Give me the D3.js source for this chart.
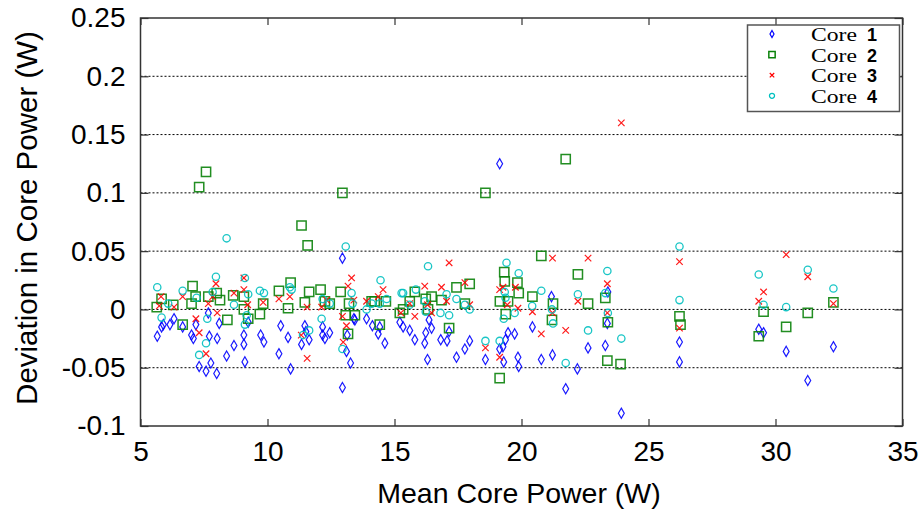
<!DOCTYPE html>
<html>
<head>
<meta charset="utf-8">
<script src="https://cdn.jsdelivr.net/npm/d3@7"></script>
<style>
  html, body { margin: 0; padding: 0; background: #fff; }
  svg { display: block; }
  .tick text { font-family: "Liberation Sans", Arial, sans-serif; font-size: 28px; fill: #000; }
</style>
</head>
<body>
<div id="chart"></div>
<script>
// ---- data ----
const xTicks = [5, 10, 15, 20, 25, 30, 35];
const yTicks = [-0.1, -0.05, 0, 0.05, 0.1, 0.15, 0.2, 0.25];
const yTickLabels = ['-0.1', '-0.05', '0', '0.05', '0.1', '0.15', '0.2', '0.25'];
const seriesNames = ['Core 1', 'Core 2', 'Core 3', 'Core 4'];

const core1 = [[5.66,-0.023],[5.83,-0.015],[5.90,-0.013],[6.16,-0.013],[6.32,-0.008],[6.66,-0.015],[7.01,-0.022],[7.08,-0.025],[7.18,-0.013],[7.31,-0.049],[7.58,-0.053],[7.67,-0.003],[7.71,-0.023],[7.77,-0.046],[8.00,-0.055],[8.02,-0.025],[8.10,-0.012],[8.39,-0.040],[8.68,-0.031],[9.07,-0.022],[9.07,-0.030],[9.11,-0.045],[9.24,-0.011],[9.73,-0.022],[9.86,-0.028],[10.45,-0.038],[10.52,-0.014],[10.81,-0.024],[10.91,-0.051],[11.34,-0.030],[11.47,-0.014],[11.51,-0.019],[11.64,-0.026],[12.17,-0.015],[12.17,-0.022],[12.26,-0.025],[12.45,-0.020],[12.95,0.044],[12.95,-0.067],[13.11,-0.036],[13.14,-0.022],[13.27,-0.046],[13.40,-0.008],[13.44,-0.009],[13.90,-0.008],[14.13,-0.014],[14.36,-0.021],[14.42,-0.015],[14.62,-0.029],[15.21,-0.011],[15.34,-0.015],[15.60,-0.018],[15.80,-0.026],[16.19,-0.029],[16.23,-0.020],[16.30,-0.043],[16.36,-0.009],[16.46,-0.016],[16.82,-0.026],[17.07,-0.027],[17.15,-0.019],[17.44,-0.041],[17.77,-0.034],[17.96,-0.027],[18.58,-0.043],[19.14,0.125],[19.14,-0.034],[19.27,-0.032],[19.30,-0.045],[19.37,-0.026],[19.47,-0.020],[19.73,-0.021],[19.86,-0.041],[19.89,-0.049],[20.43,-0.015],[20.78,-0.043],[21.18,0.011],[21.22,-0.039],[21.74,-0.068],[22.20,-0.051],[22.62,-0.033],[23.30,-0.031],[23.38,-0.012],[23.40,0.015],[23.93,-0.089],[26.22,-0.028],[26.22,-0.045],[29.34,-0.017],[29.53,-0.020],[30.42,-0.036],[31.27,-0.061],[32.28,-0.032]];

const core2 = [[5.64,0.002],[5.83,0.009],[6.29,0.004],[6.66,-0.013],[7.01,0.005],[7.05,0.020],[7.17,0.011],[7.31,0.105],[7.58,0.118],[7.67,0.011],[8.00,0.014],[8.13,0.008],[8.42,-0.009],[8.65,0.012],[9.07,0.011],[9.07,0.000],[9.24,-0.008],[9.70,-0.004],[9.83,0.005],[10.45,0.016],[10.81,0.001],[10.91,0.023],[11.34,0.072],[11.47,0.006],[11.58,0.055],[11.64,0.015],[12.09,0.017],[12.26,0.007],[12.45,0.005],[12.88,0.015],[12.95,0.100],[13.08,-0.005],[13.17,-0.021],[13.21,0.005],[13.44,-0.005],[14.10,0.007],[14.22,0.007],[14.42,-0.013],[14.66,0.007],[15.21,-0.003],[15.34,0.000],[15.60,0.007],[15.80,0.015],[16.23,0.009],[16.32,0.000],[16.46,0.011],[16.85,0.008],[17.15,-0.016],[17.44,0.019],[17.77,0.005],[17.96,0.022],[18.58,0.100],[19.14,-0.059],[19.15,0.007],[19.32,0.032],[19.34,0.024],[19.38,-0.004],[19.47,0.007],[19.84,0.023],[19.89,0.014],[20.43,0.011],[20.78,0.046],[21.20,-0.009],[21.24,0.005],[21.74,0.129],[22.22,0.030],[22.62,0.005],[23.30,0.010],[23.38,-0.044],[23.40,-0.011],[23.90,-0.047],[26.22,-0.006],[26.26,-0.013],[29.34,-0.023],[29.53,-0.002],[30.42,-0.015],[31.27,-0.003],[32.28,0.006]];

const core3 = [[5.74,0.003],[5.81,0.011],[6.32,0.002],[6.66,0.011],[7.18,-0.008],[7.31,-0.020],[7.58,-0.038],[7.67,0.005],[7.84,0.011],[7.97,0.022],[8.02,-0.003],[8.68,0.014],[9.07,0.027],[9.07,0.017],[9.22,0.004],[9.83,0.006],[10.45,0.009],[10.88,0.011],[11.33,-0.022],[11.56,-0.042],[11.56,0.002],[12.13,0.002],[12.33,0.008],[12.95,-0.006],[12.98,-0.028],[13.11,-0.014],[13.17,0.020],[13.31,0.027],[13.40,0.008],[13.90,0.007],[14.36,0.011],[14.55,0.017],[15.25,-0.003],[15.60,0.005],[15.80,-0.006],[16.19,0.020],[16.30,0.004],[16.46,-0.003],[16.85,0.019],[17.05,0.007],[17.15,0.040],[17.77,0.023],[17.96,0.004],[18.58,-0.033],[19.14,0.017],[19.14,-0.041],[19.27,0.019],[19.44,0.004],[19.76,0.019],[19.86,0.001],[20.43,-0.002],[20.78,-0.021],[21.22,0.044],[21.22,-0.003],[21.74,-0.018],[22.22,0.007],[22.62,0.044],[23.38,0.022],[23.38,-0.003],[23.93,0.160],[26.22,0.041],[26.22,-0.016],[29.34,0.007],[29.53,0.015],[30.42,0.047],[31.27,0.028],[32.28,0.005]];

const core4 = [[5.66,0.019],[5.83,-0.007],[6.09,0.005],[6.66,0.016],[7.21,0.010],[7.31,-0.039],[7.58,-0.029],[7.63,-0.008],[7.84,0.015],[7.97,0.028],[8.39,0.061],[8.68,0.004],[9.11,0.027],[9.11,-0.013],[9.18,-0.005],[9.24,0.013],[9.70,0.016],[9.86,0.014],[10.88,0.019],[10.95,0.017],[11.40,-0.022],[11.64,-0.018],[12.13,-0.008],[12.17,0.009],[12.45,0.005],[12.95,-0.034],[13.08,0.054],[13.31,0.014],[13.35,0.005],[13.90,0.000],[14.10,0.005],[14.42,0.005],[14.45,0.025],[14.69,0.009],[15.28,0.014],[15.34,0.014],[15.60,0.004],[15.84,0.017],[16.19,0.007],[16.23,-0.002],[16.32,0.037],[16.81,-0.003],[17.05,0.013],[17.15,-0.005],[17.44,0.009],[17.77,0.004],[17.96,0.000],[18.58,-0.027],[19.14,-0.027],[19.30,-0.008],[19.34,0.015],[19.37,0.010],[19.41,0.040],[19.73,-0.003],[19.89,0.031],[20.42,0.003],[20.78,0.016],[21.20,0.000],[21.24,-0.012],[21.74,-0.046],[22.22,0.013],[22.62,-0.018],[23.30,0.014],[23.38,0.033],[23.40,-0.003],[23.93,-0.025],[26.22,0.054],[26.22,0.008],[29.34,0.030],[29.53,0.004],[30.42,0.002],[31.27,0.034],[32.28,0.018]];

// ---- layout ----
const width = 920, height = 514;
const frame = { left: 140.5, right: 902.5, top: 18, bottom: 426 };

const svg = d3.select('#chart').append('svg')
  .attr('width', width).attr('height', height);

const x = d3.scaleLinear().domain([5, 35]).range([frame.left, frame.right]);
const y = d3.scaleLinear().domain([-0.1, 0.25]).range([frame.bottom, frame.top]);

// gnuplot style "x" point
const symbolCross = {
  draw(ctx, size) {
    const r = Math.sqrt(size) / 2;
    ctx.moveTo(-r, -r); ctx.lineTo(r, r);
    ctx.moveTo(r, -r); ctx.lineTo(-r, r);
  }
};

const styles = [
  { type: d3.symbolDiamond, size: 30, color: '#0000ff', width: 1.2, legendSize: 14 },
  { type: d3.symbolSquare,  size: 85, color: '#0a820a', width: 1.5, legendSize: 40 },
  { type: symbolCross,      size: 42, color: '#ff0000', width: 1.2, legendSize: 20 },
  { type: d3.symbolCircle,  size: 42, color: '#00c0c0', width: 1.3, legendSize: 20 }
];

// dotted horizontal grid
svg.append('g').attr('class', 'grid')
  .selectAll('line')
  .data(yTicks.filter(v => v > -0.1 && v < 0.25))
  .join('line')
  .attr('x1', frame.left).attr('x2', frame.right)
  .attr('y1', d => y(d)).attr('y2', d => y(d))
  .attr('stroke', '#000')
  .attr('stroke-width', 1)
  .attr('stroke-dasharray', '2,2');

// axes (ticks pointing inward, mirrored on top/right)
const gx = svg.append('g').attr('transform', `translate(0,${frame.bottom})`)
  .call(d3.axisBottom(x).tickValues(xTicks).tickSize(-7).tickPadding(15).tickFormat(d3.format('d')));
const gy = svg.append('g').attr('transform', `translate(${frame.left},0)`)
  .call(d3.axisLeft(y).tickValues(yTicks).tickSize(-8).tickPadding(15)
    .tickFormat((d, i) => yTickLabels[i]));
const gt = svg.append('g').attr('transform', `translate(0,${frame.top})`)
  .call(d3.axisTop(x).tickValues(xTicks).tickSize(-7).tickFormat(''));
const gr = svg.append('g').attr('transform', `translate(${frame.right},0)`)
  .call(d3.axisRight(y).tickValues(yTicks).tickSize(-8).tickFormat(''));

[gx, gy, gt, gr].forEach(g => {
  g.select('.domain').remove();
  g.selectAll('.tick line').attr('stroke', '#333').attr('stroke-width', 1.2);
  g.attr('font-family', null).attr('font-size', null);
});

// series
const allSeries = [core1, core2, core3, core4];
allSeries.forEach((data, i) => {
  const st = styles[i];
  svg.append('g').attr('class', 'series-' + (i + 1))
    .selectAll('path')
    .data(data)
    .join('path')
    .attr('transform', d => `translate(${x(d[0])},${y(d[1])})`)
    .attr('d', d3.symbol().type(st.type).size(st.size))
    .attr('fill', 'none')
    .attr('stroke', st.color)
    .attr('stroke-width', st.width)
    .attr('stroke-opacity', 0.9);
});

// frame
svg.append('rect')
  .attr('x', frame.left).attr('y', frame.top)
  .attr('width', frame.right - frame.left)
  .attr('height', frame.bottom - frame.top)
  .attr('fill', 'none')
  .attr('stroke', '#333')
  .attr('stroke-width', 1.5);

// axis titles
svg.append('text')
  .attr('x', 519).attr('y', 503)
  .attr('text-anchor', 'middle')
  .attr('font-family', '"Liberation Sans", Arial, sans-serif')
  .attr('font-size', 28.5)
  .text('Mean Core Power (W)');

svg.append('text')
  .attr('transform', 'translate(37,218) rotate(-90)')
  .attr('text-anchor', 'middle')
  .attr('font-family', '"Liberation Sans", Arial, sans-serif')
  .attr('font-size', 29.5)
  .text('Deviation in Core Power (W)');

// legend
const legend = svg.append('g').attr('class', 'legend');
legend.append('rect')
  .attr('x', 747.5).attr('y', 25)
  .attr('width', 152).attr('height', 86.5)
  .attr('fill', '#fff')
  .attr('stroke', '#555')
  .attr('stroke-width', 1.5);

const rows = legend.selectAll('g.row')
  .data(seriesNames)
  .join('g')
  .attr('class', 'row')
  .attr('transform', (d, i) => `translate(0,${34 + i * 20.6})`);

rows.append('path')
  .attr('transform', 'translate(772,0)')
  .attr('d', (d, i) => d3.symbol().type(styles[i].type).size(styles[i].legendSize)())
  .attr('fill', 'none')
  .attr('stroke', (d, i) => styles[i].color)
  .attr('stroke-width', (d, i) => styles[i].width);

rows.append('text')
  .attr('x', 811).attr('y', 7)
  .attr('font-family', '"Liberation Serif", "Times New Roman", serif')
  .attr('font-size', 18)
  .attr('textLength', 46)
  .attr('lengthAdjust', 'spacingAndGlyphs')
  .text(d => d.split(' ')[0]);

rows.append('text')
  .attr('x', 872).attr('y', 7)
  .attr('text-anchor', 'middle')
  .attr('font-family', '"Liberation Sans", Arial, sans-serif')
  .attr('font-size', 18)
  .attr('font-weight', 'bold')
  .text(d => d.split(' ')[1]);
</script>
</body>
</html>
